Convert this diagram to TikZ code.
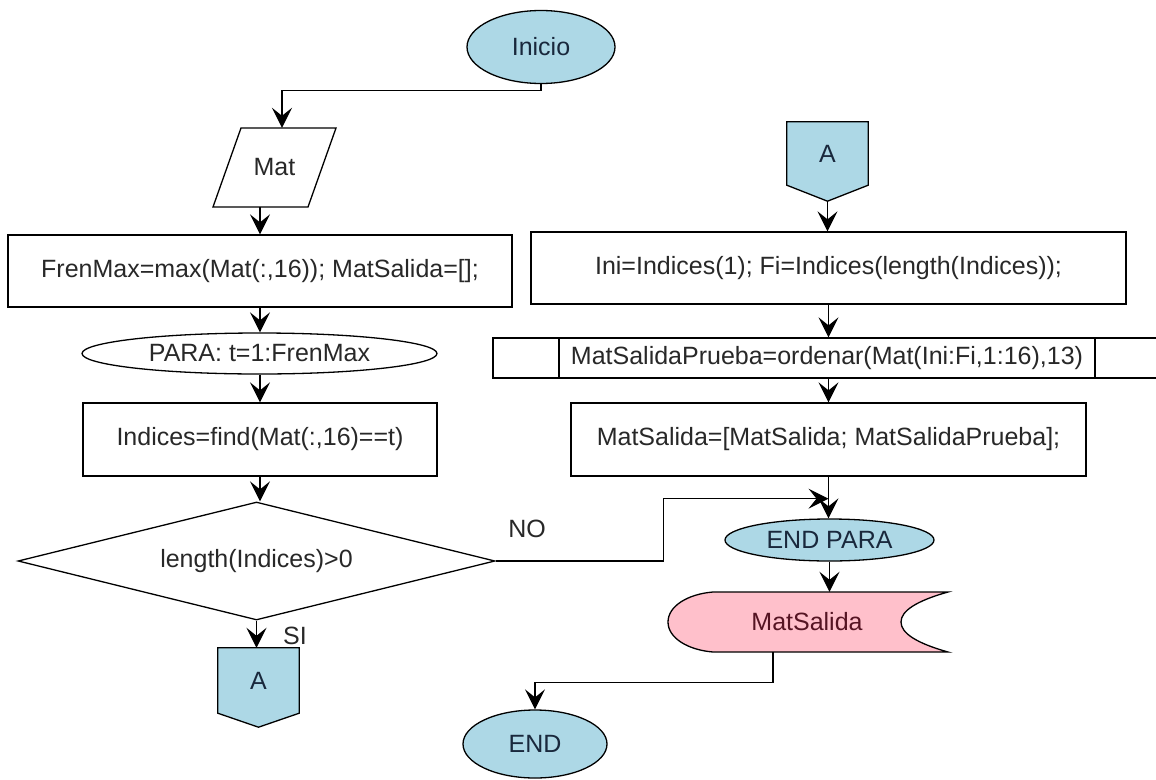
\documentclass[tikz,border=0pt]{standalone}
\usepackage{fontspec}
\setmainfont{Liberation Sans}
\usetikzlibrary{shapes.geometric,arrows.meta,calc,backgrounds}
\definecolor{termfill}{RGB}{173,216,230}
\definecolor{outfill}{RGB}{255,192,203}
\definecolor{txt}{RGB}{40,40,40}
\definecolor{termtxt}{RGB}{25,40,60}
\definecolor{outtxt}{RGB}{85,20,35}
\begin{document}
\begin{tikzpicture}[x=1pt,y=-1pt,
  font=\fontsize{25}{29}\selectfont,
  every node/.style={text=txt},
  outline/.style={draw=black,line width=1.3pt},
  procbox/.style={outline,rectangle,inner sep=0pt,fill=white},
  term/.style={outline,ellipse,fill=termfill,inner sep=0pt,text=termtxt},
  loopell/.style={outline,ellipse,fill=white,inner sep=0pt},
  decision/.style={outline,diamond,shape aspect=4,inner sep=0pt,fill=white},
  plain/.style={inner sep=0pt},
  >={Stealth[length=20pt,width=20pt,inset=8pt]},
  flow/.style={line width=1.3pt,->},
  lbl/.style={inner sep=0pt},
  ]
\useasboundingbox (0,0) rectangle (1156,779);

% ---------- left column ----------
\node[term,minimum width=148,minimum height=73] (ini) at (541,47) {Inicio};

\node[plain,minimum width=123,minimum height=79] (mat) at (274.5,167.5) {Mat};
\begin{scope}[on background layer]
  \fill[white] (0,0) rectangle (1156,779);
  \draw[outline,fill=white] (241,128) -- (336,128) -- (308,207) -- (213,207) -- cycle;
\end{scope}

\node[procbox,minimum width=504,minimum height=72] (fb) at (260,271)
  {FrenMax=max(Mat(:,16)); MatSalida=[];};
\node[loopell,minimum width=355,minimum height=41] (para) at (259.5,353.5)
  {PARA: t=1:FrenMax};
\node[procbox,minimum width=354,minimum height=73] (ind) at (260,439.5)
  {Indices=find(Mat(:,16)==t)};
\node[decision,minimum width=477,minimum height=118] (dia) at (256.5,561)
  {length(Indices)>0};

% off-page connector A (left)
\node[plain,minimum width=81,minimum height=65,text=termtxt] (a1) at (258.5,680.5) {A};
\begin{scope}[on background layer]
  \draw[outline,fill=termfill] (a1.north west) -- (a1.north east) -- (a1.south east)
    -- ($(a1.south)+(0,14)$) -- (a1.south west) -- cycle;
\end{scope}

% ---------- right column ----------
\node[plain,minimum width=81,minimum height=63,text=termtxt] (a2) at (827.5,153.5) {A};
\coordinate (a2tip) at ($(a2.south)+(0,16)$);
\begin{scope}[on background layer]
  \draw[outline,fill=termfill] (a2.north west) -- (a2.north east) -- (a2.south east)
    -- (a2tip) -- (a2.south west) -- cycle;
\end{scope}

\node[procbox,minimum width=595,minimum height=72] (ini2) at (828.5,268)
  {Ini=Indices(1); Fi=Indices(length(Indices));};

% predefined process (open on the right edge)
\begin{scope}[on background layer]
  \draw[outline] (1157,338) -- (493,338) -- (493,378) -- (1157,378);
\end{scope}
\node[procbox,minimum width=536,minimum height=40] (sub) at (827,358)
  {MatSalidaPrueba=ordenar(Mat(Ini:Fi,1:16),13)};

\node[procbox,minimum width=515,minimum height=73] (ms) at (828.5,439.5)
  {MatSalida=[MatSalida; MatSalidaPrueba];};
\coordinate (merge) at ($(ms.south)+(0,22)$);

\node[term,minimum width=209,minimum height=42] (endp) at (829.5,540) {END PARA};

% display (output) symbol
\node[plain,minimum width=280,minimum height=60,text=outtxt] (out) at (807,622) {MatSalida};
\begin{scope}[on background layer]
  \draw[outline,fill=outfill] (713,592) -- (948,592)
    .. controls (916,601) and (901,611) .. (901,622)
    .. controls (901,633) and (916,643) .. (948,652)
    -- (713,652)
    .. controls (688,650) and (668,638) .. (668,622)
    .. controls (668,606) and (688,594) .. (713,592) -- cycle;
\end{scope}

\node[term,minimum width=144,minimum height=68] (endn) at (535,744) {END};

% ---------- connectors ----------
\draw[flow] (ini.south) -- ++(0,6) -| ([xshift=7.5]mat.north);
\draw[flow] (mat.south -| fb.north) -- (fb.north);
\draw[flow] (fb.south) -- (fb.south |- para.north);
\draw[flow] (para.south -| ind.north) -- (ind.north);
\draw[flow] (ind.south) -- (ind.south |- dia.north);
\draw[flow] (dia.south) -- (dia.south |- a1.north)
  node[lbl,pos=0.55,right=26pt] {SI};
\draw[flow] (dia.east) -- ++(168,0) |- (merge);
\node[lbl] (nolbl) at (527,529) {NO};

\draw[flow] (a2tip) -- (a2tip |- ini2.north);
\draw[flow] (ini2.south) -- (ini2.south |- sub.north);
\draw[flow] (ms.north |- sub.south) -- (ms.north);
\draw[flow] (ms.south) -- (ms.south |- endp.north);
\draw[flow] (endp.south) -- (endp.south |- out.north);
\draw[flow] ([xshift=-34]out.south) -- ++(0,30) -| (endn.north);
\end{tikzpicture}
\end{document}
